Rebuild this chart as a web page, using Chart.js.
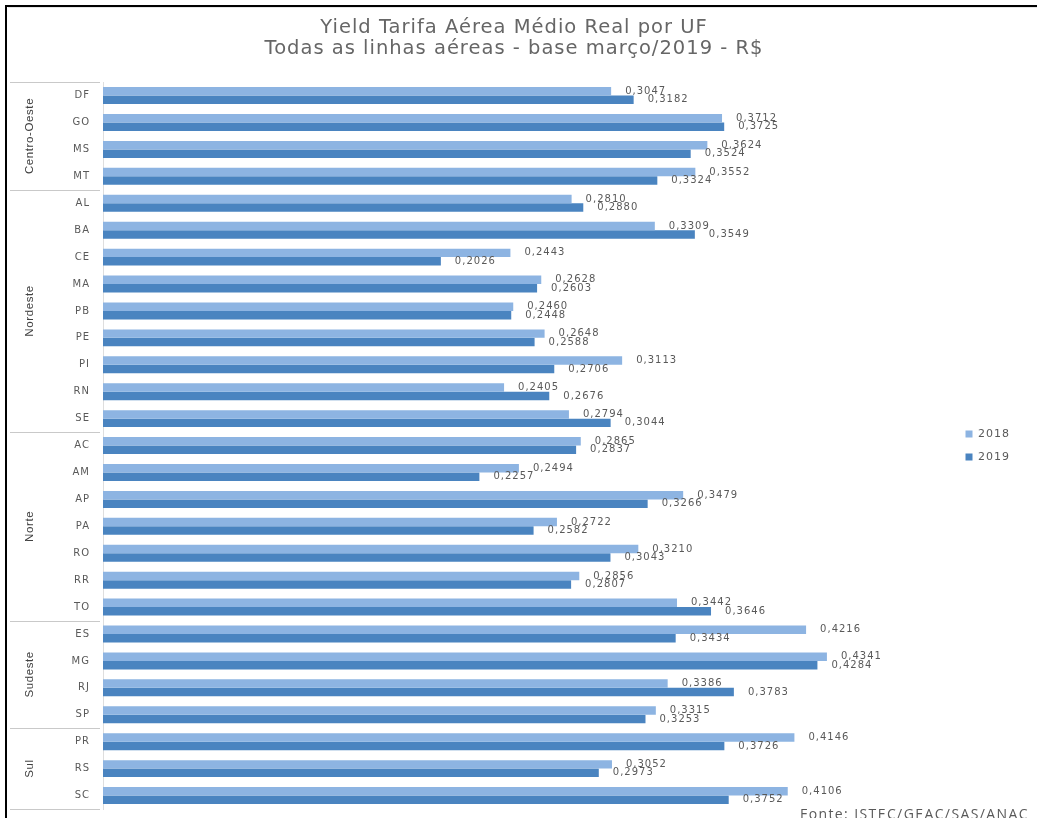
<!DOCTYPE html>
<html><head><meta charset="utf-8">
<script src="https://cdn.jsdelivr.net/npm/chart.js@4"></script>
<style>
html,body{margin:0;padding:0;background:#fff;width:1037px;height:818px;overflow:hidden;}
#frame{position:absolute;left:5px;top:5px;width:1040px;height:830px;border-left:2px solid #000;border-top:2px solid #000;}
#wrap{position:absolute;left:8px;top:7px;width:1029px;height:811px;border-top:1px solid #e6e6e6;box-sizing:border-box;}
#src{position:absolute;left:800px;top:804px;font:14px 'Open Sans';letter-spacing:1.4px;color:#595959;white-space:nowrap;}
</style></head><body>
<div id="frame"></div>
<div id="wrap"><canvas id="c"></canvas></div>
<div id="src">Fonte: ISTEC/GEAC/SAS/ANAC</div>
<script>
const states = ['DF','GO','MS','MT','AL','BA','CE','MA','PB','PE','PI','RN','SE','AC','AM','AP','PA','RO','RR','TO','ES','MG','RJ','SP','PR','RS','SC'];
const regionNames = ['Centro-Oeste','Nordeste','Norte','Sudeste','Sul'];
const regionSizes = [4,9,7,4,3];
const seriesLabels = ['2018','2019'];
const yield2018 = [0.3047,0.3712,0.3624,0.3552,0.2810,0.3309,0.2443,0.2628,0.2460,0.2648,0.3113,0.2405,0.2794,0.2865,0.2494,0.3479,0.2722,0.3210,0.2856,0.3442,0.4216,0.4341,0.3386,0.3315,0.4146,0.3052,0.4106];
const yield2019 = [0.3182,0.3725,0.3524,0.3324,0.2880,0.3549,0.2026,0.2603,0.2448,0.2588,0.2706,0.2676,0.3044,0.2837,0.2257,0.3266,0.2582,0.3043,0.2807,0.3646,0.3434,0.4284,0.3783,0.3253,0.3726,0.2973,0.3752];
const titleLines = ['Yield Tarifa Aérea Médio Real por UF','Todas as linhas aéreas - base março/2019 - R$'];

const spacing = {
  id:'spacing',
  beforeLayout(chart){ chart.ctx.letterSpacing = '1px'; },
  beforeDraw(chart){ chart.ctx.letterSpacing = '1px'; }
};

const valueLabels = {
  id:'valueLabels',
  afterDatasetsDraw(chart){
    const ctx = chart.ctx;
    ctx.save();
    ctx.letterSpacing = '1px';
    ctx.font = '10px "DejaVu Sans"';
    ctx.fillStyle = '#595959';
    ctx.textBaseline = 'middle';
    ctx.textAlign = 'left';
    chart.data.datasets.forEach((ds, di) => {
      chart.getDatasetMeta(di).data.forEach((bar, i) => {
        ctx.fillText(ds.data[i].toFixed(4).replace('.', ','), bar.x + 14, bar.y);
      });
    });
    ctx.restore();
  }
};

const regionGroups = {
  id:'regionGroups',
  afterDraw(chart){
    const ctx = chart.ctx, y = chart.scales.y;
    const step = y.getPixelForValue(1) - y.getPixelForValue(0);
    ctx.save();
    ctx.strokeStyle = '#c9c9c9';
    ctx.lineWidth = 1;
    let start = 0;
    const line = (py) => { ctx.beginPath(); ctx.moveTo(2, Math.round(py)+0.5); ctx.lineTo(y.right - 3, Math.round(py)+0.5); ctx.stroke(); };
    line(y.getPixelForValue(0) - step/2);
    regionNames.forEach((name, r) => {
      const n = regionSizes[r];
      const top = y.getPixelForValue(start) - step/2;
      const bot = y.getPixelForValue(start + n - 1) + step/2;
      line(bot);
      ctx.save();
      ctx.translate(22, (top + bot) / 2);
      ctx.rotate(-Math.PI/2);
      ctx.letterSpacing = '0.6px';
      ctx.font = '11.5px "Liberation Sans"';
      ctx.fillStyle = '#404040';
      ctx.textAlign = 'center';
      ctx.textBaseline = 'middle';
      ctx.fillText(name, 0, 0);
      ctx.restore();
      start += n;
    });
    ctx.restore();
  }
};

new Chart(document.getElementById('c'), {
  type: 'bar',
  data: {
    labels: states,
    datasets: [
      {label: seriesLabels[0], data: yield2018, backgroundColor: '#8DB4E2'},
      {label: seriesLabels[1], data: yield2019, backgroundColor: '#4A84C0'}
    ]
  },
  options: {
    indexAxis: 'y',
    responsive: true,
    maintainAspectRatio: false,
    animation: false,
    events: [],
    datasets: {bar: {barPercentage: 1, categoryPercentage: 0.63}},
    layout: {padding: {left: 0, right: 17, top: 0, bottom: 9}},
    scales: {
      x: {display: false, min: 0, max: 0.51},
      y: {
        grid: {display: false, drawTicks: false},
        border: {display: true, color: '#dedede'},
        ticks: {font: {family: 'DejaVu Sans', size: 10}, color: '#595959', padding: 13},
        afterFit(scale){ scale.width = 95; scale.paddingTop = 0; scale.paddingBottom = 0; }
      }
    },
    plugins: {
      title: {
        display: true, text: titleLines, color: '#666666',
        font: {family: 'DejaVu Sans', size: 19.5, weight: 'normal', lineHeight: 1.08},
        padding: {top: 9, bottom: 23}
      },
      legend: {
        position: 'right',
        fullSize: false,
        labels: {boxWidth: 7, boxHeight: 7, font: {family: 'DejaVu Sans', size: 11}, color: '#595959', padding: 12}
      },
      tooltip: {enabled: false}
    }
  },
  plugins: [spacing, valueLabels, regionGroups]
});
</script>
</body></html>
